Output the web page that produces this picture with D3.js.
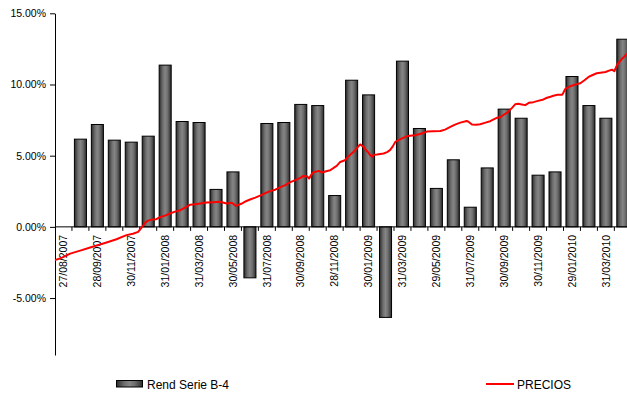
<!DOCTYPE html>
<html>
<head>
<meta charset="utf-8">
<script src="https://cdn.jsdelivr.net/npm/d3@7"></script>
<style>
  html, body { margin: 0; padding: 0; background: #fff; }
  svg { display: block; font-family: "Liberation Sans", Arial, sans-serif; }
</style>
</head>
<body>
<svg id="chart" width="627" height="396"></svg>
<script>
// Month-end categories for the bar series
const categories = [
  "27/08/2007","31/08/2007","28/09/2007","31/10/2007","30/11/2007","31/12/2007",
  "31/01/2008","29/02/2008","31/03/2008","30/04/2008","30/05/2008","30/06/2008",
  "31/07/2008","29/08/2008","30/09/2008","31/10/2008","28/11/2008","31/12/2008",
  "30/01/2009","27/02/2009","31/03/2009","30/04/2009","29/05/2009","30/06/2009",
  "31/07/2009","31/08/2009","30/09/2009","30/10/2009","30/11/2009","31/12/2009",
  "29/01/2010","26/02/2010","31/03/2010","30/04/2010"
];

// Rend Serie B-4 (%)
const rendSerie = [
  null, 6.16, 7.19, 6.09, 5.95, 6.37, 11.36, 7.40, 7.33, 2.63, 3.86, -3.58,
  7.26, 7.33, 8.60, 8.52, 2.20, 10.30, 9.27, -6.36, 11.64, 6.91, 2.70, 4.71,
  1.38, 4.14, 8.27, 7.63, 3.63, 3.86, 10.56, 8.52, 7.63, 13.18
];

// PRECIOS (%), dated observations
const precioDates = [
  "2007-08-27","2007-09-08","2007-09-22","2007-10-09","2007-10-26","2007-11-12","2007-11-23",
  "2007-12-10","2007-12-27","2008-01-07","2008-01-16","2008-01-19","2008-01-23","2008-01-28",
  "2008-02-02","2008-02-08","2008-02-16","2008-02-22","2008-03-02","2008-03-10","2008-03-19",
  "2008-03-28","2008-04-05","2008-04-14","2008-04-22","2008-05-01","2008-05-12","2008-05-23",
  "2008-06-04","2008-06-15","2008-06-24","2008-07-01","2008-07-11","2008-07-18","2008-07-25",
  "2008-08-03","2008-08-11","2008-08-20","2008-08-28","2008-09-06","2008-09-14","2008-09-23",
  "2008-10-01","2008-10-10","2008-10-19","2008-10-24","2008-10-31","2008-11-03","2008-11-06",
  "2008-11-10","2008-11-19","2008-11-25","2008-12-02","2008-12-09","2008-12-14","2008-12-20",
  "2008-12-26","2009-01-03","2009-01-07","2009-01-12","2009-01-18","2009-01-22","2009-01-29",
  "2009-02-04","2009-02-08","2009-02-12","2009-02-15","2009-02-18","2009-02-22","2009-02-27",
  "2009-03-10","2009-03-16","2009-03-21","2009-03-26","2009-03-30","2009-04-07","2009-04-19",
  "2009-04-24","2009-05-03","2009-05-14","2009-05-23","2009-06-03","2009-06-15","2009-06-23",
  "2009-07-02","2009-07-10","2009-07-19","2009-07-30","2009-08-03","2009-08-08","2009-08-15",
  "2009-08-22","2009-08-31","2009-09-08","2009-09-20","2009-09-25","2009-09-30","2009-10-07",
  "2009-10-15","2009-10-21","2009-10-26","2009-11-01","2009-11-07","2009-11-13","2009-11-21",
  "2009-11-27","2009-12-08","2009-12-14","2009-12-20","2009-12-25","2010-01-01","2010-01-09",
  "2010-01-11","2010-01-14","2010-01-23","2010-01-31","2010-02-09","2010-02-16","2010-02-23",
  "2010-03-01","2010-03-09","2010-03-15","2010-03-24","2010-03-30","2010-04-04","2010-04-08",
  "2010-04-13","2010-04-15","2010-04-21","2010-04-25","2010-04-30"
];
const precioValues = [
  -2.34, -2.16, -1.88, -1.67, -1.45, -1.24, -1.10,
  -0.87, -0.58, -0.48, -0.35, -0.20, 0.01, 0.29,
  0.44, 0.51, 0.54, 0.68, 0.79, 0.94, 1.07,
  1.17, 1.35, 1.56, 1.59, 1.64, 1.71, 1.73,
  1.76, 1.64, 1.70, 1.47, 1.64, 1.80, 1.92,
  2.05, 2.19, 2.37, 2.51, 2.61, 2.77, 2.93,
  3.12, 3.28, 3.44, 3.58, 3.53, 3.40, 3.63,
  3.82, 3.93, 3.82, 3.91, 3.98, 4.12, 4.28,
  4.56, 4.68, 4.86, 5.07, 5.27, 5.46, 5.79,
  5.62, 5.39, 5.22, 5.04, 4.93, 5.07, 5.08,
  5.15, 5.25, 5.39, 5.67, 5.97, 6.14, 6.37,
  6.40, 6.44, 6.56, 6.69, 6.72, 6.73, 6.83,
  7.02, 7.18, 7.32, 7.44, 7.35, 7.19, 7.18,
  7.21, 7.32, 7.42, 7.67, 7.70, 7.84, 8.02,
  8.34, 8.62, 8.65, 8.60, 8.55, 8.71, 8.76,
  8.83, 8.95, 9.07, 9.14, 9.21, 9.28, 9.28,
  9.42, 9.67, 9.88, 9.99, 10.09, 10.30, 10.53,
  10.65, 10.79, 10.83, 10.88, 10.97, 11.04, 10.93,
  11.39, 11.50, 11.80, 11.95, 12.18
];
const precioRange = ["2007-08-27", "2010-05-07"];

// Axis settings
const yDomain = [-9, 15];
const yTicks = [15, 10, 5, 0, -5];

const svg = d3.select("#chart");
const plotLeft = 55, plotRight = 631.3, plotTop = 13.3, plotBottom = 355;

const y = d3.scaleLinear().domain(yDomain).range([plotBottom, plotTop]);
const slot = d3.scaleBand().domain(categories).range([plotLeft, plotRight]).padding(0);
const xBar = d3.scaleBand().domain(categories).range([plotLeft, plotRight])
  .paddingInner(0.29).paddingOuter(0.145);
const parse = d3.timeParse("%Y-%m-%d");
const xTime = d3.scaleTime().domain(precioRange.map(parse)).range([plotLeft, plotRight]);

// gradient for the bars (dark edges, lighter centre)
const defs = svg.append("defs");
const grad = defs.append("linearGradient").attr("id", "barGrad")
  .attr("x1", "0%").attr("x2", "100%").attr("y1", "0%").attr("y2", "0%");
[[0, "#2c2c2c"], [0.3, "#6e6e6e"], [0.5, "#858585"], [0.7, "#6e6e6e"], [1, "#2c2c2c"]]
  .forEach(([o, c]) => grad.append("stop").attr("offset", o).attr("stop-color", c));

// bars
const barData = categories.map((c, i) => ({ c, v: rendSerie[i] })).filter(d => d.v != null);
svg.append("g").selectAll("rect").data(barData).join("rect")
  .attr("x", d => xBar(d.c))
  .attr("width", xBar.bandwidth())
  .attr("y", d => y(Math.max(0, d.v)))
  .attr("height", d => Math.abs(y(d.v) - y(0)))
  .attr("fill", "url(#barGrad)")
  .attr("stroke", "#000")
  .attr("stroke-width", 1);

// y axis
const yAxis = svg.append("g").attr("transform", `translate(${plotLeft},0)`)
  .call(d3.axisLeft(y).tickValues(yTicks).tickSize(5).tickSizeOuter(0)
    .tickFormat(d => d.toFixed(2) + "%"));
yAxis.select(".domain").attr("stroke", "#000");
yAxis.selectAll(".tick line").attr("stroke", "#000");
yAxis.selectAll(".tick text").attr("x", -9).attr("font-size", "10.5px")
  .attr("fill", "#000").attr("font-family", "Liberation Sans, Arial, sans-serif");

// x axis at zero
const y0 = y(0);
svg.append("line").attr("x1", plotLeft).attr("x2", plotRight).attr("y1", y0).attr("y2", y0)
  .attr("stroke", "#000");
svg.append("g").selectAll("line").data(categories.slice(1)).join("line")
  .attr("x1", d => slot(d)).attr("x2", d => slot(d))
  .attr("y1", y0).attr("y2", y0 + 4).attr("stroke", "#000");

// category labels, every second month
svg.append("g").selectAll("text")
  .data(categories.filter((d, i) => i % 2 === 0)).join("text")
  .attr("transform", d => `translate(${slot(d) + slot.bandwidth() / 2},${y0 + 8}) rotate(-90)`)
  .attr("text-anchor", "end").attr("dy", "0.35em")
  .attr("font-size", "10.5px").attr("fill", "#000")
  .text(d => d);

// price line
const lineData = precioDates.map((d, i) => ({ t: parse(d), v: precioValues[i] }));
svg.append("path").datum(lineData)
  .attr("d", d3.line().x(d => xTime(d.t)).y(d => y(d.v)))
  .attr("fill", "none").attr("stroke", "#ff0000").attr("stroke-width", 2)
  .attr("stroke-linejoin", "round");

// legend
const lg = svg.append("g").attr("font-size", "12px").attr("fill", "#000");
lg.append("rect").attr("x", 116.5).attr("y", 380.5).attr("width", 26).attr("height", 6.5)
  .attr("fill", "url(#barGrad)").attr("stroke", "#000");
lg.append("text").attr("x", 147).attr("y", 388.5).text("Rend Serie B-4");
lg.append("line").attr("x1", 486).attr("x2", 514).attr("y1", 384).attr("y2", 384)
  .attr("stroke", "#ff0000").attr("stroke-width", 2);
lg.append("text").attr("x", 517).attr("y", 388.5).text("PRECIOS");
</script>
</body>
</html>
